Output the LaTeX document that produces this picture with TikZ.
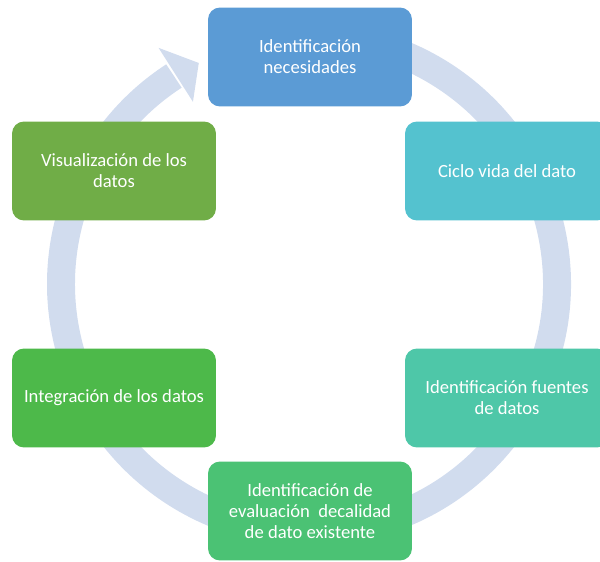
\documentclass[tikz,border=0pt]{standalone}
\usepackage{fontspec}
\setmainfont{Carlito}
\usepackage{tikz}
\usetikzlibrary{positioning, calc}
\definecolor{ringblue}{HTML}{D1DCEE}
\definecolor{needblue}{HTML}{5B9BD5}
\definecolor{cycleteal}{HTML}{54C2CF}
\definecolor{sourcegreen}{HTML}{4EC7A8}
\definecolor{evalgreen}{HTML}{4BC274}
\definecolor{integgreen}{HTML}{4DB94A}
\definecolor{visgreen}{HTML}{70AD47}

\begin{document}
\begin{tikzpicture}[
            x=0.02cm, y=0.02cm,
            stagebox/.style={rectangle, rounded corners=0.24cm, minimum width=4.08cm, minimum height=1.98cm,
                align=center, text=white, font=\fontsize{10.6}{12}\selectfont, inner sep=2pt}
        ]
            \useasboundingbox (0,0) rectangle (600,562);
            \clip (0,0) rectangle (600,562);
            % cycle ring with arrow head
            \coordinate (mid) at (309,278);
            \draw [ringblue, line width=0.56cm] ($(mid)+(100:248)$) arc[start angle=100, end angle=-237, radius=248];
            \fill [ringblue] ($(mid)+(122.5:216)$) -- ($(mid)+(122.5:280)$) -- ($(mid)+(116.5:247)$) -- cycle;

            \node [stagebox, fill=needblue] (need) at (310,505) {Identificación\\necesidades};
            \node [stagebox, fill=cycleteal] (cycle) at (507,391) {Ciclo vida del dato};
            \node [stagebox, fill=sourcegreen] (sources) at (507,164) {Identificación fuentes\\de datos};
            \node [stagebox, fill=evalgreen] (eval) at (310,51) {Identificación de\\evaluación\ \ decalidad\\de dato existente};
            \node [stagebox, fill=integgreen] (integ) at (114,164) {Integración de los datos};
            \node [stagebox, fill=visgreen] (vis) at (114,391) {Visualización de los\\datos};
        \end{tikzpicture}
\end{document}
